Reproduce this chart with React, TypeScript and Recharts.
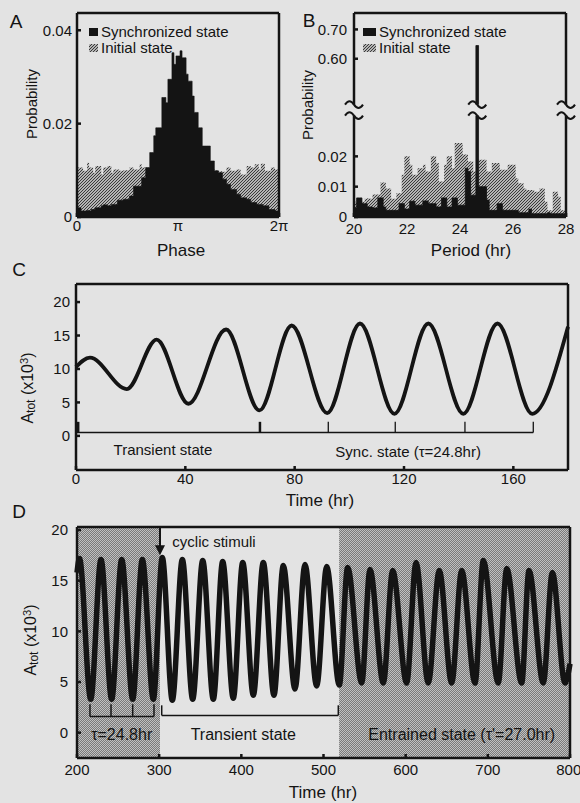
import React from 'react';
import {
    ComposedChart, Area, Line, XAxis, YAxis,
    ReferenceArea, ReferenceLine, ReferenceDot
} from 'recharts';

const FONT = '"Liberation Sans", Arial, Helvetica, sans-serif';
const INK = '#141414';
const PAPER = '#e3e3e3';

// ---- Panel A: phase distribution, 100 bins over 0..2π
const phaseSync = [
    0.0020, 0.0020, 0.0013, 0.0013, 0.0013, 0.0014, 0.0013, 0.0016, 0.0016, 0.0020,
    0.0020, 0.0020, 0.0024, 0.0026, 0.0026, 0.0024, 0.0024, 0.0027, 0.0027, 0.0027,
    0.0036, 0.0036, 0.0036, 0.0038, 0.0038, 0.0038, 0.0045, 0.0045, 0.0066, 0.0066,
    0.0066, 0.0066, 0.0084, 0.0084, 0.0106, 0.0106, 0.0138, 0.0138, 0.0174, 0.0191,
    0.0191, 0.0191, 0.0256, 0.0256, 0.0245, 0.0295, 0.0295, 0.0352, 0.0327, 0.0345,
    0.0345, 0.0356, 0.0341, 0.0341, 0.0306, 0.0291, 0.0291, 0.0259, 0.0224, 0.0224,
    0.0191, 0.0191, 0.0152, 0.0152, 0.0152, 0.0152, 0.0120, 0.0120, 0.0099, 0.0099,
    0.0095, 0.0095, 0.0081, 0.0081, 0.0070, 0.0070, 0.0059, 0.0059, 0.0059, 0.0049,
    0.0049, 0.0041, 0.0041, 0.0041, 0.0038, 0.0038, 0.0031, 0.0031, 0.0031, 0.0027,
    0.0027, 0.0027, 0.0024, 0.0024, 0.0024, 0.0016, 0.0016, 0.0016, 0.0013, 0.0013,
];
const phaseInit = [
    0.0106, 0.0106, 0.0106, 0.0099, 0.0099, 0.0116, 0.0106, 0.0106, 0.0095, 0.0109,
    0.0109, 0.0109, 0.0091, 0.0106, 0.0106, 0.0109, 0.0109, 0.0095, 0.0102, 0.0102,
    0.0102, 0.0099, 0.0099, 0.0100, 0.0100, 0.0100, 0.0106, 0.0106, 0.0102, 0.0102,
    0.0102, 0.0113, 0.0106, 0.0106, 0.0103, 0.0098, 0.0101, 0.0105, 0.0097, 0.0102,
    0.0100, 0.0104, 0.0099, 0.0101, 0.0103, 0.0098, 0.0100, 0.0102, 0.0099, 0.0101,
    0.0104, 0.0098, 0.0100, 0.0103, 0.0099, 0.0101, 0.0100, 0.0102, 0.0098, 0.0101,
    0.0103, 0.0099, 0.0100, 0.0102, 0.0098, 0.0101, 0.0100, 0.0103, 0.0099, 0.0100,
    0.0098, 0.0098, 0.0097, 0.0097, 0.0106, 0.0106, 0.0099, 0.0099, 0.0099, 0.0102,
    0.0102, 0.0091, 0.0091, 0.0091, 0.0109, 0.0109, 0.0106, 0.0106, 0.0113, 0.0113,
    0.0102, 0.0114, 0.0114, 0.0099, 0.0099, 0.0099, 0.0106, 0.0106, 0.0102, 0.0102,
];
const PHASE_TICKS = [0, Math.PI, 2 * Math.PI];
const PHASE_TICK_LABELS = ['0', 'π', '2π'];
const PHASE_Y_TICKS = [0, 0.02, 0.04];

// ---- Panel B: period distribution, 0.1 hr bins over 20..28 (axis is broken)
const periodSync = [
    0.0030, 0.0063, 0.0063, 0.0044, 0.0044, 0.0033, 0.0033, 0.0030, 0.0030, 0.0063,
    0.0063, 0.0033, 0.0022, 0.0022, 0.0022, 0.0022, 0.0022, 0.0044, 0.0044, 0.0026,
    0.0026, 0.0052, 0.0052, 0.0039, 0.0039, 0.0039, 0.0053, 0.0053, 0.0044, 0.0044,
    0.0044, 0.0033, 0.0033, 0.0063, 0.0063, 0.0033, 0.0033, 0.0063, 0.0063, 0.0039,
    0.0039, 0.0039, 0.0161, 0.0150, 0.0072, 0.0072, 0.6450, 0.0100, 0.0100, 0.0100,
    0.0056, 0.0022, 0.0022, 0.0022, 0.0044, 0.0044, 0.0022, 0.0022, 0.0022, 0.0022,
    0.0022, 0.0022, 0.0014, 0.0014, 0.0014, 0.0014, 0.0026, 0.0011, 0.0011, 0.0011,
    0.0011, 0.0011, 0.0011, 0.0014, 0.0011, 0.0011, 0.0011, 0.0011, 0.0011, 0.0011,
];
const periodInit = [
    0.0050, 0.0060, 0.0060, 0.0050, 0.0060, 0.0062, 0.0060, 0.0074, 0.0074, 0.0074,
    0.0114, 0.0114, 0.0094, 0.0094, 0.0060, 0.0060, 0.0078, 0.0078, 0.0139, 0.0200,
    0.0200, 0.0172, 0.0139, 0.0139, 0.0161, 0.0161, 0.0172, 0.0150, 0.0150, 0.0200,
    0.0200, 0.0178, 0.0117, 0.0117, 0.0172, 0.0200, 0.0200, 0.0161, 0.0244, 0.0244,
    0.0244, 0.0206, 0.0206, 0.0183, 0.0183, 0.0150, 0.0150, 0.0189, 0.0189, 0.0189,
    0.0150, 0.0150, 0.0178, 0.0178, 0.0178, 0.0156, 0.0156, 0.0156, 0.0172, 0.0172,
    0.0172, 0.0128, 0.0111, 0.0111, 0.0094, 0.0089, 0.0089, 0.0089, 0.0083, 0.0083,
    0.0094, 0.0094, 0.0050, 0.0022, 0.0022, 0.0083, 0.0083, 0.0067, 0.0022, 0.0022,
];
const PERIOD_TICKS = [20, 22, 24, 26, 28];
const PROB_TICK_VALUES = [0, 0.01, 0.02, 0.6, 0.7];
const PROB_TICK_LABELS = ['0', '0.01', '0.02', '0.60', '0.70'];

// ---- Panel C: spontaneous synchronisation
const syncTime = [0, 5.1, 18.6, 29.5, 41.1, 54.9, 67.1, 78.9, 91.9, 103.9, 116.5, 128.9, 141.7, 154.2, 166.9, 180];
const syncAtot = [10.3, 11.7, 7.0, 14.4, 4.8, 15.9, 3.8, 16.5, 3.4, 16.8, 3.3, 16.8, 3.3, 16.8, 3.3, 16.3];
const syncMarks = [0.8, 67.3, 92.3, 116.8, 142.3, 167.3];
const SYNC_X_TICKS = [0, 40, 80, 120, 160];
const ATOT_TICKS = [0, 5, 10, 15, 20];

// ---- Panel D: entrainment by cyclic stimuli
const entrainTime = [
    200, 203, 216.7, 229.2, 242.2, 254.4, 267.8, 279.5, 292.9, 303.8,
    316, 328.2, 340.8, 353, 365.9, 377.3, 390.2, 401.7, 414.6, 426.7,
    439.7, 451.1, 465.3, 477.5, 491.7, 503.9, 519.2, 529.4, 546.5, 556.6,
    572.8, 584.2, 601.2, 612.6, 627.5, 640.9, 656, 668.2, 684.4, 694.5,
    712.7, 723, 741.2, 750.1, 767.5, 778.5, 793.9, 800,
];
const entrainAtot = [
    15.8, 17.2, 3.3, 17.1, 3.3, 17.1, 3.3, 17.1, 3.3, 17.3,
    3.2, 17.1, 3.3, 17.0, 3.3, 16.9, 3.4, 16.8, 3.7, 16.8,
    3.7, 16.5, 4.3, 16.6, 4.6, 16.4, 4.7, 16.3, 4.9, 16.1,
    4.9, 16.0, 4.9, 16.8, 4.9, 16.0, 4.9, 16.0, 4.9, 17.0,
    4.9, 16.2, 4.9, 16.0, 4.9, 15.8, 4.9, 6.8,
];
const ENTRAIN_X_TICKS = [200, 300, 400, 500, 600, 700, 800];
const freeRunMarks = [215.8, 241.4, 267.8, 293.7];
const transientSpan = [303.1, 518];
const shadedSpans = [[200, 301], [519, 800]];

// broken probability axis in panel B
const BREAK_LOW = 0.0333;
const BREAK_HIGH = 0.445;
const BREAK_GAP = 0.0039;
const UPPER_SCALE = 0.0967;
const toAxis = (v: number) => (v <= BREAK_LOW ? v : BREAK_LOW + BREAK_GAP + (v - BREAK_HIGH) * UPPER_SCALE);
const PERIOD_TOP = toAxis(0.756);

const histRows = (start: number, step: number, sync: number[], init: number[], map = (v: number) => v) => {
    const rows = sync.map((s, i) => ({ x: start + i * step, sync: map(s), init: map(init[i]) }));
    rows.push({ x: start + sync.length * step, sync: map(sync[sync.length - 1]), init: map(init[init.length - 1]) });
    return rows;
};

const phaseRows = histRows(0, (2 * Math.PI) / phaseSync.length, phaseSync, phaseInit);
const periodRows = histRows(20, 0.1, periodSync, periodInit, toAxis);
const syncRows = syncTime.map((t, i) => ({ t, a: syncAtot[i] }));
const entrainRows = entrainTime.map((t, i) => ({ t, a: entrainAtot[i] }));

const tickStyle = { fontSize: 15, fill: INK, fontFamily: FONT };
const frameLine = { stroke: INK, strokeWidth: 2.5 };

const textShape = (label: string, size = 15, anchor: 'start' | 'middle' = 'middle') => (p: any) => (
    <text x={p.cx} y={p.cy} textAnchor={anchor} dominantBaseline="central" fontSize={size} fill={INK} fontFamily={FONT}>{label}</text>
);

const arrowShape = (p: any) => (
    <path d={`M${p.cx - 5},${p.cy - 10} L${p.cx + 5},${p.cy - 10} L${p.cx},${p.cy} Z`} fill={INK} />
);

// tilde pair marking the break of the probability axis
const tilde = (x: number, y: number) => `M${x - 9},${y} c3,-4.5 6,-4.5 9,0 s6,4.5 9,0`;
const breakShape = (p: any) => (
    <g>
        <rect x={p.cx - 10} y={p.cy - 5.5} width={20} height={11} fill={PAPER} />
        <path d={tilde(p.cx, p.cy - 5.5)} stroke={INK} strokeWidth={2} fill="none" />
        <path d={tilde(p.cx, p.cy + 5.5)} stroke={INK} strokeWidth={2} fill="none" />
    </g>
);

const Note = ({ x, y, size = 17, rotate = false, children }: any) => (
    <div style={{
        position: 'absolute', left: x, top: y, fontSize: size, fontFamily: FONT, color: INK,
        whiteSpace: 'nowrap', lineHeight: 1,
        transform: `translate(-50%, -50%)${rotate ? ' rotate(-90deg)' : ''}`,
    }}>{children}</div>
);

const Key = ({ x, y, w, fill, label }: any) => (
    <div style={{ position: 'absolute', left: x, top: y, display: 'flex', alignItems: 'center', fontFamily: FONT, fontSize: 15, color: INK, lineHeight: 1 }}>
        <svg width={w} height={8} style={{ marginRight: 3 }}><rect width={w} height={8} fill={fill} /></svg>
        {label}
    </div>
);

// the box of each panel: visible bottom/left axes plus mirrored top/right axes without labels
const boxAxes = (xKey: string, xDomain: number[], yDomain: number[], xTicks: number[], yTicks: number[]) => [
    <XAxis key="top" xAxisId="top" orientation="top" type="number" dataKey={xKey} domain={xDomain} ticks={xTicks}
        allowDataOverflow tick={false} tickLine={frameLine} tickSize={-4} axisLine={frameLine} height={1} />,
    <YAxis key="right" yAxisId="right" orientation="right" type="number" domain={yDomain} ticks={yTicks}
        allowDataOverflow tick={false} tickLine={frameLine} tickSize={-4} axisLine={frameLine} width={1} />,
];

function PhasePanel() {
    return (
        <ComposedChart width={290} height={260} data={phaseRows} margin={{ top: 12, right: 10, bottom: 20, left: 27 }}>
            <XAxis type="number" dataKey="x" domain={[0, 2 * Math.PI]} ticks={PHASE_TICKS}
                tickFormatter={(v, i) => PHASE_TICK_LABELS[i]} axisLine={frameLine} tickLine={frameLine}
                tickSize={-4} tickMargin={7} tick={tickStyle} height={23} />
            <YAxis type="number" domain={[0, 0.0437]} ticks={PHASE_Y_TICKS} tickFormatter={(v) => String(v)}
                axisLine={frameLine} tickLine={frameLine} tickSize={-4} tickMargin={9} tick={tickStyle} width={50} />
            {boxAxes('x', [0, 2 * Math.PI], [0, 0.0437], PHASE_TICKS, PHASE_Y_TICKS)}
            <Area type="stepAfter" dataKey="init" fill="url(#hatch)" fillOpacity={1} stroke="none" isAnimationActive={false} />
            <Area type="stepAfter" dataKey="sync" fill={INK} fillOpacity={1} stroke={INK} strokeWidth={0.6} isAnimationActive={false} />
        </ComposedChart>
    );
}

function PeriodPanel() {
    const yTicks = PROB_TICK_VALUES.map(toAxis);
    const mid = BREAK_LOW + BREAK_GAP / 2;
    return (
        <ComposedChart width={290} height={260} data={periodRows} margin={{ top: 12, right: 13, bottom: 20, left: 14 }}>
            <XAxis type="number" dataKey="x" domain={[20, 28]} ticks={PERIOD_TICKS} axisLine={frameLine} tickLine={frameLine}
                tickSize={-4} tickMargin={10} tick={tickStyle} height={23} />
            <YAxis type="number" domain={[0, PERIOD_TOP]} ticks={yTicks}
                tickFormatter={(v, i) => PROB_TICK_LABELS[i]} axisLine={frameLine} tickLine={frameLine}
                tickSize={-4} tickMargin={11} tick={tickStyle} width={50} />
            {boxAxes('x', [20, 28], [0, PERIOD_TOP], PERIOD_TICKS, yTicks)}
            <Area type="stepAfter" dataKey="init" fill="url(#hatch)" fillOpacity={1} stroke="none" isAnimationActive={false} />
            <Area type="stepAfter" dataKey="sync" fill={INK} fillOpacity={1} stroke={INK} strokeWidth={0.8} isAnimationActive={false} />
            {[20, 24.65, 28].map((hr) => (
                <ReferenceDot key={hr} x={hr} y={mid} r={0} shape={breakShape} ifOverflow="visible" />
            ))}
        </ComposedChart>
    );
}

function SyncPanel() {
    return (
        <ComposedChart width={580} height={240} data={syncRows} margin={{ top: 13, right: 11, bottom: 17, left: 26 }}>
            <XAxis type="number" dataKey="t" domain={[0, 180]} ticks={SYNC_X_TICKS} axisLine={frameLine} tickLine={frameLine}
                tickSize={-4} tickMargin={7} tick={tickStyle} height={23} />
            <YAxis type="number" domain={[-5.1, 22.7]} ticks={ATOT_TICKS} axisLine={frameLine} tickLine={frameLine}
                tickSize={-4} tickMargin={10} tick={tickStyle} width={50} />
            {boxAxes('t', [0, 180], [-5.1, 22.7], SYNC_X_TICKS, ATOT_TICKS)}
            <Line type="monotone" dataKey="a" stroke={INK} strokeWidth={3.8} dot={false} isAnimationActive={false} />
            <ReferenceLine segment={[{ x: 0, y: 0.5 }, { x: syncMarks[syncMarks.length - 1], y: 0.5 }]} stroke={INK} strokeWidth={1.5} />
            {syncMarks.map((m, i) => (
                <ReferenceLine key={m} segment={[{ x: m, y: 0.5 }, { x: m, y: 2.1 }]} stroke={INK} strokeWidth={i < 2 ? 2.5 : 1.3} />
            ))}
            <ReferenceDot x={31.8} y={-2.0} r={0} shape={textShape('Transient state')} />
            <ReferenceDot x={121.5} y={-2.3} r={0} shape={textShape('Sync. state (τ=24.8hr)')} />
        </ComposedChart>
    );
}

function EntrainPanel() {
    return (
        <ComposedChart width={580} height={298} data={entrainRows} margin={{ top: 21, right: 9, bottom: 22, left: 27 }}>
            <XAxis type="number" dataKey="t" domain={[200, 800]} ticks={ENTRAIN_X_TICKS} axisLine={frameLine} tickLine={frameLine}
                tickSize={-4} tickMargin={10} tick={tickStyle} height={23} />
            <YAxis type="number" domain={[-2.5, 20.3]} ticks={ATOT_TICKS} axisLine={frameLine} tickLine={frameLine}
                tickSize={-4} tickMargin={13} tick={tickStyle} width={50} />
            {boxAxes('t', [200, 800], [-2.5, 20.3], ENTRAIN_X_TICKS, ATOT_TICKS)}
            {shadedSpans.map(([a, b]) => (
                <ReferenceArea key={a} x1={a} x2={b} y1={-2.5} y2={20.3} fill="url(#stipple)" fillOpacity={1} stroke="none" />
            ))}
            <Line type="monotone" dataKey="a" stroke={INK} strokeWidth={5.5} dot={false} isAnimationActive={false} />
            <ReferenceLine segment={[{ x: freeRunMarks[0], y: 1.6 }, { x: freeRunMarks[freeRunMarks.length - 1], y: 1.6 }]} stroke={INK} strokeWidth={1.5} />
            {freeRunMarks.map((m) => (
                <ReferenceLine key={m} segment={[{ x: m, y: 1.6 }, { x: m, y: 2.8 }]} stroke={INK} strokeWidth={1.5} />
            ))}
            <ReferenceLine segment={[{ x: transientSpan[0], y: 1.7 }, { x: transientSpan[1], y: 1.7 }]} stroke={INK} strokeWidth={1.5} />
            {transientSpan.map((m) => (
                <ReferenceLine key={m} segment={[{ x: m, y: 1.7 }, { x: m, y: 2.7 }]} stroke={INK} strokeWidth={1.5} />
            ))}
            <ReferenceLine segment={[{ x: 301, y: 20.3 }, { x: 301, y: 18.3 }]} stroke={INK} strokeWidth={2} />
            <ReferenceDot x={301} y={17.5} r={0} shape={arrowShape} />
            <ReferenceDot x={316} y={18.9} r={0} shape={textShape('cyclic stimuli', 15, 'start')} />
            <ReferenceDot x={254.4} y={-0.2} r={0} shape={textShape('τ=24.8hr', 16)} />
            <ReferenceDot x={402.4} y={-0.2} r={0} shape={textShape('Transient state', 16)} />
            <ReferenceDot x={668.2} y={-0.2} r={0} shape={textShape("Entrained state (τ'=27.0hr)", 16)} />
        </ComposedChart>
    );
}

const Atot = () => (
    <span>A<span style={{ fontSize: '0.75em', position: 'relative', top: '0.2em' }}>tot</span> (x10<span style={{ fontSize: '0.7em', position: 'relative', top: '-0.45em' }}>3</span>)</span>
);

export default function App() {
    return (
        <div style={{ position: 'relative', width: 580, height: 803, background: PAPER, overflow: 'hidden', fontFamily: FONT }}>
            <style>{'body{margin:0}'}</style>
            <svg width={0} height={0} style={{ position: 'absolute' }}>
                <defs>
                    <pattern id="hatch" width={3} height={3} patternUnits="userSpaceOnUse">
                        <rect width={3} height={3} fill="#b4b4b4" />
                        <path d="M-1,1 L1,-1 M0,3 L3,0 M2,4 L4,2" stroke="#3a3a3a" strokeWidth={1} />
                    </pattern>
                    <pattern id="stipple" width={2} height={2} patternUnits="userSpaceOnUse">
                        <rect width={2} height={2} fill="#c0c0c0" />
                        <rect width={1} height={1} fill="#7a7a7a" />
                        <rect x={1} y={1} width={1} height={1} fill="#7a7a7a" />
                    </pattern>
                </defs>
            </svg>

            <div style={{ position: 'absolute', left: 0, top: 0 }}><PhasePanel /></div>
            <div style={{ position: 'absolute', left: 290, top: 0 }}><PeriodPanel /></div>
            <div style={{ position: 'absolute', left: 0, top: 270 }}><SyncPanel /></div>
            <div style={{ position: 'absolute', left: 0, top: 505 }}><EntrainPanel /></div>

            <Key x={89} y={24} w={9} fill={INK} label="Synchronized state" />
            <Key x={89} y={40} w={9} fill="url(#hatch)" label="Initial state" />
            <Key x={363} y={24} w={13} fill={INK} label="Synchronized state" />
            <Key x={363} y={40} w={13} fill="url(#hatch)" label="Initial state" />

            <Note x={16} y={21} size={19}>A</Note>
            <Note x={309} y={20} size={19}>B</Note>
            <Note x={19} y={269} size={19}>C</Note>
            <Note x={19} y={511} size={19}>D</Note>

            <Note x={31} y={104} size={15} rotate>Probability</Note>
            <Note x={307} y={105} size={15} rotate>Probability</Note>
            <Note x={181} y={250}>Phase</Note>
            <Note x={471} y={250}>Period (hr)</Note>

            <Note x={28} y={388} size={16} rotate><Atot /></Note>
            <Note x={31} y={640} size={16} rotate><Atot /></Note>
            <Note x={320} y={500}>Time (hr)</Note>
            <Note x={323} y={792}>Time (hr)</Note>
        </div>
    );
}
